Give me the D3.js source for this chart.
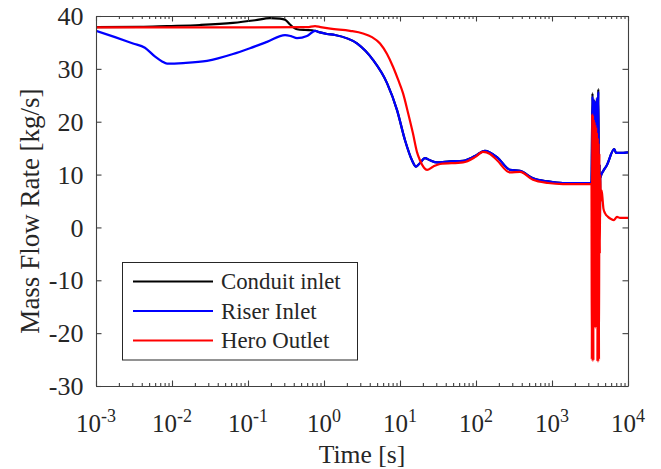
<!DOCTYPE html>
<html><head><meta charset="utf-8">
<script src="https://cdn.jsdelivr.net/npm/d3@7"></script>
<style>
html,body{margin:0;padding:0;background:#fff;}
svg{display:block;}
text{font-family:"Liberation Serif","Times New Roman",serif;fill:#262626;}
</style></head>
<body><svg id="c" width="661" height="469"></svg>
<script>
// ---- data ----
const conduitTime = [0.001,0.0038,0.0086,0.0233,0.0635,0.124,0.195,0.264,0.307,0.357,0.40,0.442,0.563,0.70,
  0.762,0.886,1.094,1.395,2.716,4.41,6.75,9.14,11.64,14.39,16.25,18.34,21.3,24.8,30.7,45.5,67.5,97,131,189,280,379,562,886,1395,3162,
  3309,3411,3487,3569,3657,3736,3828,3909,3982,4067,4154,4230,4270,4300,5290,6600,6950,7850,10000];
const conduitFlow = [37.9,37.95,38.1,38.3,38.7,39.2,39.6,39.5,39.3,38.4,37.8,37.5,37.35,37.3,
  37.2,36.9,36.6,36.4,34.8,31.7,27.3,22.2,16.5,12.7,11.5,12.2,13.1,12.7,12.3,12.5,12.6,13.5,14.5,13.3,10.9,10.7,9.3,8.7,8.4,8.4,
  8.5,25.4,0,24.2,-2,23.8,-3,24.5,0,26.2,5,12,0.8,9.3,11.8,14.8,14.1,14.1,14.2];

const riserTime = [0.001,0.00178,0.00307,0.0044,0.006,0.0074,0.0086,0.01397,0.0289,0.0635,0.106,0.178,0.307,0.367,0.442,0.597,0.762,0.886,1.094,1.395,2.716,4.41,6.75,9.14,11.64,14.39,16.25,18.34,21.3,24.8,30.7,45.5,67.5,97,131,189,280,379,562,886,1395,3162,
  3309,3411,3487,3569,3657,3736,3828,3909,3982,4067,4154,4230,4270,4300,5290,6600,6950,7850,10000];
const riserFlow = [37.2,36.0,34.8,34.0,32.3,31.4,31.0,31.1,31.5,32.8,33.9,35.1,36.4,36.2,35.8,36.2,37.2,36.9,36.6,36.4,34.8,31.7,27.3,22.2,16.5,12.7,11.5,12.2,13.1,12.7,12.3,12.5,12.6,13.5,14.5,13.3,10.9,10.7,9.3,8.7,8.4,8.4,
  8.5,24.8,0,24.2,-2,23.8,-3,24.5,0,25.7,5,12,0.8,9.3,11.8,14.8,14.1,14.1,14.2];

const heroTime = [0.001,0.01,0.1,0.6,0.762,0.9,1.21,2.2,3.26,4.28,5.46,6.75,8.09,9.42,10.95,12.7,14.8,16.7,18.3,20.7,22.7,27.2,33.6,67.5,97,123.6,153,189,280,379,562,886,1395,3258,
  3309,3340,3381,3422,3464,3506,3548,3591,3635,3680,3724,3770,3816,3862,3909,3957,4005,4054,4104,4154,4205,4256,4308,4387,4481,4549,4760,4980,5455,5975,6545,7170,7850,10000];
const heroFlow = [37.85,37.85,37.85,37.9,38.1,37.9,37.6,37.2,36.7,36.0,34.8,32.8,30.4,28.0,25.4,21.8,17.8,14.3,12.7,11.3,10.9,11.5,12.0,12.3,13.3,14.3,13.9,12.7,10.4,10.5,9.0,8.4,8.2,8.2,
  8.2,-25,21.5,-25.3,21.3,-25.2,20.5,-19,20,-18.8,19.5,-19,19,-18.5,18,-25.4,17,-25.4,16,-25,14,-5,10,5,7,6.5,3.5,2.7,2.0,1.6,1.4,2.0,1.8,1.8];

const seriesNames = ["Conduit inlet","Riser Inlet","Hero Outlet"];
const seriesColors = ["#000000","#0000ff","#ff0000"];
const xMajorExp = [-3,-2,-1,0,1,2,3,4];
const yTicks = [-30,-20,-10,0,10,20,30,40];

// ---- layout ----
const L=96,R=628,T=16,B=386;
const svg=d3.select("#c");
const x=d3.scaleLog().domain([1e-3,1e4]).range([L,R]);
const y=d3.scaleLinear().domain([-30,40]).range([B,T]);
const axisCol="#404040";

svg.append("defs").append("clipPath").attr("id","clip")
  .append("rect").attr("x",L).attr("y",T).attr("width",R-L).attr("height",B-T);

// lines
const series=[[conduitTime,conduitFlow],[riserTime,riserFlow],[heroTime,heroFlow]];
const line=d3.line().x(d=>x(d[0])).y(d=>y(d[1])).curve(d3.curveMonotoneX);
const gl=svg.append("g").attr("clip-path","url(#clip)");
series.forEach((s,i)=>{
  const pts=s[0].map((t,j)=>[t,s[1][j]]);
  gl.append("path").datum(pts).attr("d",line).attr("fill","none")
    .attr("stroke",seriesColors[i]).attr("stroke-width",2.2).attr("stroke-linejoin","round");
});

// ticks
const majors=xMajorExp.map(e=>Math.pow(10,e));
const minors=[];
xMajorExp.slice(0,-1).forEach(e=>{for(let m=2;m<=9;m++)minors.push(m*Math.pow(10,e));});

function styleAxis(g){g.selectAll("path,line").attr("stroke",axisCol).attr("stroke-width",1.1);}
svg.append("g").attr("transform",`translate(0,${B})`)
  .call(d3.axisBottom(x).tickValues(majors).tickSize(-5.5).tickSizeOuter(0).tickFormat(""))
  .call(styleAxis);
svg.append("g").attr("transform",`translate(0,${B})`)
  .call(d3.axisBottom(x).tickValues(minors).tickSize(-3).tickSizeOuter(0).tickFormat(""))
  .call(styleAxis).call(g=>g.select(".domain").remove());
svg.append("g").attr("transform",`translate(0,${T})`)
  .call(d3.axisTop(x).tickValues(majors).tickSize(-5.5).tickSizeOuter(0).tickFormat(""))
  .call(styleAxis);
svg.append("g").attr("transform",`translate(0,${T})`)
  .call(d3.axisTop(x).tickValues(minors).tickSize(-3).tickSizeOuter(0).tickFormat(""))
  .call(styleAxis).call(g=>g.select(".domain").remove());
const yl=svg.append("g").attr("transform",`translate(${L},0)`)
  .call(d3.axisLeft(y).tickValues(yTicks).tickSize(-5.5).tickSizeOuter(0).tickPadding(12.5).tickFormat(d=>String(d)))
  .call(styleAxis);
yl.attr("font-size",null).attr("font-family",null);
yl.selectAll("text").style("font-size","26px").style("fill","#262626").attr("dy","0.33em")
  .style("font-family","'Liberation Serif','Times New Roman',serif");
svg.append("g").attr("transform",`translate(${R},0)`)
  .call(d3.axisRight(y).tickValues(yTicks).tickSize(-5.5).tickSizeOuter(0).tickFormat(""))
  .call(styleAxis);

// x tick labels with superscripts
const xl=svg.append("g");
majors.forEach((v,i)=>{
  const t=xl.append("text").attr("x",x(v)).attr("y",432).attr("text-anchor","middle").style("font-size","25px");
  t.append("tspan").text("10");
  t.append("tspan").attr("dy",-10).style("font-size","18px").text(String(xMajorExp[i]));
});

// axis labels
svg.append("text").attr("x",(L+R)/2).attr("y",463).attr("text-anchor","middle").style("font-size","25.6px").text("Time [s]");
svg.append("text").attr("transform",`translate(39,${(T+B)/2+10}) rotate(-90)`).attr("text-anchor","middle")
  .style("font-size","27px").text("Mass Flow Rate [kg/s]");

// legend
const lg=svg.append("g");
lg.append("rect").attr("x",122.5).attr("y",262.5).attr("width",235).attr("height",97.5)
  .attr("fill","#fff").attr("stroke","#262626").attr("stroke-width",1);
seriesNames.forEach((n,i)=>{
  const yy=281.5+i*29.5;
  lg.append("line").attr("x1",133).attr("x2",213).attr("y1",yy).attr("y2",yy)
    .attr("stroke",seriesColors[i]).attr("stroke-width",2.2);
  lg.append("text").attr("x",221).attr("y",yy).attr("dy","0.33em").style("font-size","22.8px").text(n);
});
</script></body></html>
